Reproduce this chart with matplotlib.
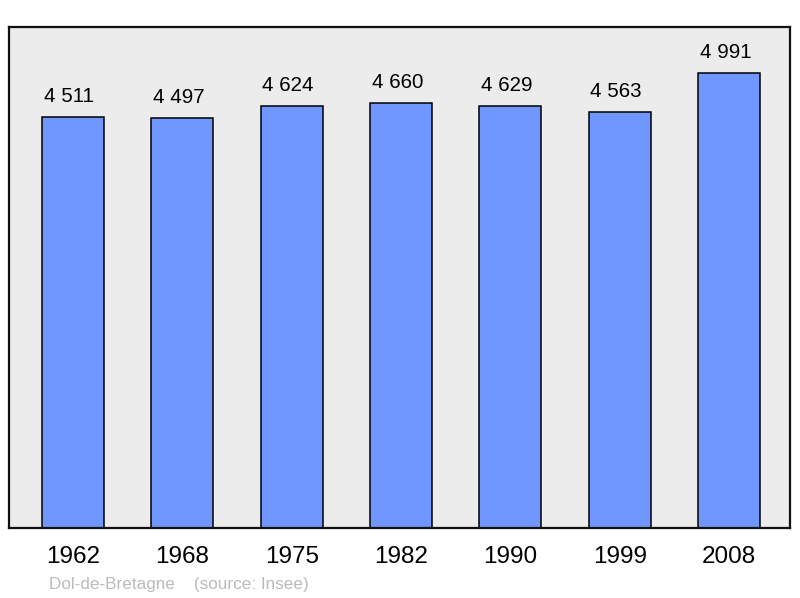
import numpy as np
from matplotlib import pyplot as plt

years = ['1962', '1968', '1975', '1982', '1990', '1999', '2008']
population = [4511, 4497, 4624, 4660, 4629, 4563, 4991]
labels = ['4 511', '4 497', '4 624', '4 660', '4 629', '4 563', '4 991']

plt.rcParams['font.family'] = ['Liberation Sans', 'DejaVu Sans']

fig = plt.figure(figsize=(8, 5.98), dpi=100)
ax = fig.add_axes([0.01125, 0.117, 0.97625, 0.8378])
ax.set_facecolor('#ececec')

x = np.arange(len(years))
ax.bar(x, population, width=0.567, color='#7097ff', edgecolor='black', linewidth=1.1, zorder=2)

for xi, v, lab in zip(x, population, labels):
    ax.annotate(lab, (xi, v), xytext=(-2.5, 8), textcoords='offset points',
                ha='center', va='bottom', fontsize=14.8)

ax.set_xlim(-0.585, 6.558)
ax.set_ylim(0, 5495)
ax.set_xticks(x)
ax.set_xticklabels(years, fontsize=17.5)
ax.tick_params(axis='x', length=0, pad=13)
ax.set_yticks([])
for s in ax.spines.values():
    s.set_linewidth(1.6)
    s.set_color('#111111')

fig.text(49 / 800, 1 - 584 / 598, 'Dol-de-Bretagne    (source: Insee)',
         fontsize=12.3, color='#bbbbbb', ha='left', va='center')

fig.savefig('out.png', dpi=100)
